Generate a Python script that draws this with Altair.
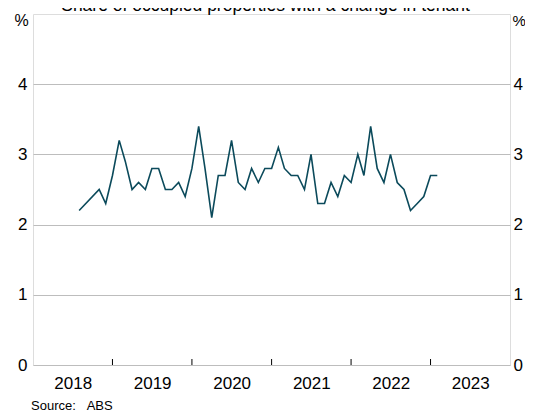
import altair as alt
import pandas as pd

# Monthly share of occupied properties with a change in tenant (%)
months = [
    "2018-08", "2018-11", "2018-12",
    "2019-01", "2019-02", "2019-03", "2019-04", "2019-05", "2019-06",
    "2019-07", "2019-08", "2019-09", "2019-10", "2019-11", "2019-12",
    "2020-01", "2020-02", "2020-03", "2020-04", "2020-05", "2020-06",
    "2020-07", "2020-08", "2020-09", "2020-10", "2020-11", "2020-12",
    "2021-01", "2021-02", "2021-03", "2021-04", "2021-05", "2021-06",
    "2021-07", "2021-08", "2021-09", "2021-10", "2021-11", "2021-12",
    "2022-01", "2022-02", "2022-03", "2022-04", "2022-05", "2022-06",
    "2022-07", "2022-08", "2022-09", "2022-10", "2022-11", "2022-12",
    "2023-01", "2023-02",
]
values = [
    2.2, 2.5, 2.3,
    2.7, 3.2, 2.9, 2.5, 2.6, 2.5,
    2.8, 2.8, 2.5, 2.5, 2.6, 2.4,
    2.8, 3.4, 2.8, 2.1, 2.7, 2.7,
    3.2, 2.6, 2.5, 2.8, 2.6, 2.8,
    2.8, 3.1, 2.8, 2.7, 2.7, 2.5,
    3.0, 2.3, 2.3, 2.6, 2.4, 2.7,
    2.6, 3.0, 2.7, 3.4, 2.8, 2.6,
    3.0, 2.6, 2.5, 2.2, 2.3, 2.4,
    2.7, 2.7,
]
year_ticks = ["2019", "2020", "2021", "2022", "2023"]
year_labels = [2018, 2019, 2020, 2021, 2022, 2023]
y_ticks = [0, 1, 2, 3, 4]
title_text = "Share of occupied properties with a change in tenant"
source_text = "Source:\u00a0\u00a0\u00a0ABS"

df = pd.DataFrame({"date": [m + "-01T00:00:00" for m in months], "value": values})
ticks_df = pd.DataFrame({"date": [y + "-01-01T00:00:00" for y in year_ticks]})

FONT = "Arial, Liberation Sans"
FS = 17
W, H = 477, 351

x_scale = alt.Scale(domain=[alt.DateTime(year=2018, month=1, date=1),
                            alt.DateTime(year=2024, month=1, date=1)])
y_scale = alt.Scale(domain=[0, 5], nice=False)

x_axis = alt.Axis(
    values=[alt.DateTime(year=y, month=1, date=1) for y in year_labels],
    format="%Y", labelOffset=39.7, tickSize=0, domain=False, grid=False,
    labelPadding=10, labelFontSize=FS, labelFont=FONT, labelColor="black",
    title=None, labelAlign="center",
)

line = alt.Chart(df).mark_line(color="#0b4a5b", strokeWidth=1.6).encode(
    x=alt.X("date:T", scale=x_scale, axis=x_axis),
    y=alt.Y("value:Q", scale=y_scale, axis=alt.Axis(
        values=y_ticks, orient="left", domain=False, ticks=False, grid=True,
        gridColor="#bdbdbd", gridWidth=1, labelPadding=6, labelFontSize=FS,
        labelFont=FONT, labelColor="black", title="%", titleAngle=0,
        titleX=-12, titleY=6, titleAlign="center", titleBaseline="middle",
        titleFontSize=16, titleFont=FONT, titleFontWeight="normal",
        titleColor="black")),
)

right = alt.Chart(df).mark_line(opacity=0).encode(
    x=alt.X("date:T", scale=x_scale),
    y=alt.Y("value:Q", scale=y_scale, axis=alt.Axis(
        values=y_ticks, orient="right", domain=False, ticks=False, grid=False,
        labelPadding=3, labelFontSize=FS, labelFont=FONT, labelColor="black",
        title="%", titleAngle=0, titleX=2, titleY=6, titleAlign="left",
        titleBaseline="middle", titleFontSize=15, titleFont=FONT,
        titleFontWeight="normal", titleColor="black")),
)

tick_marks = alt.Chart(ticks_df).mark_rule(color="black", strokeWidth=1).encode(
    x=alt.X("date:T", scale=x_scale),
    y=alt.value(H),
    y2=alt.value(H - 6),
)

source = alt.Chart(pd.DataFrame({"t": [source_text]})).mark_text(
    align="left", baseline="alphabetic", fontSize=13, font=FONT, color="black"
).encode(text="t:N", x=alt.value(-2), y=alt.value(H + 45))

title = alt.Chart(pd.DataFrame({"t": [title_text]})).mark_text(
    align="center", baseline="alphabetic", fontSize=17.5, font=FONT, color="black"
).encode(text="t:N", x=alt.value(W / 2 - 6), y=alt.value(-3))

chart = alt.layer(line, right, tick_marks, source, title).resolve_scale(
    y="independent"
).properties(
    width=W, height=H,
    autosize=alt.AutoSizeParams(type="none"),
    padding={"left": 25, "top": 6, "right": 15, "bottom": 48},
).configure_view(stroke="black", strokeWidth=1).configure(background="white")

chart.save("out.html", embed_options={"renderer": "svg", "actions": False})
